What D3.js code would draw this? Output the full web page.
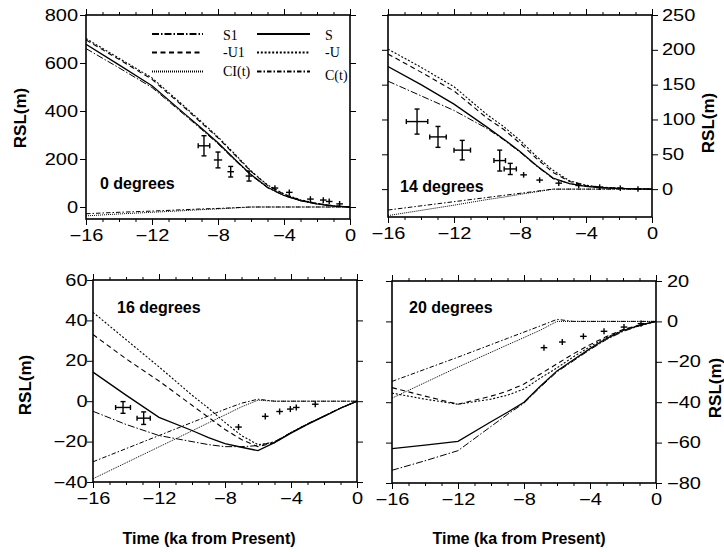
<!DOCTYPE html>
<html>
<head>
<meta charset="utf-8">
<script src="https://cdn.jsdelivr.net/npm/d3@7"></script>
<style>
  body { margin: 0; background: #fff; }
  svg { display: block; }
  text { font-family: "Liberation Sans", Arial, sans-serif; fill: #000; }
</style>
</head>
<body>
<div id="canvas"></div>
<script>
// time grid (ka from present) on which the model curves were read
const times = [-16, -14, -12, -10, -9, -8, -7, -6, -5, -4, -3, -2, -1, 0];
const xMajor = [-16, -12, -8, -4, 0];
const xMinor = d3.range(-16, 1);

// legend order: S1, S / -U1, -U / CI(t), C(t)
const seriesNames = ["S1", "S", "-U1", "-U", "CI(t)", "C(t)"];

// model RSL curves (m), one small object per latitude
const rsl0 = {
  "S1":    [660, 580, 498, 382, 323, 263, 196, 132, 80, 47, 26, 12, 4, 0],
  "S":     [678, 592, 505, 387, 328, 268, 200, 135, 82, 48, 27, 13, 4, 0],
  "-U1":   [696, 615, 532, 412, 350, 288, 218, 148, 90, 53, 29, 14, 5, 0],
  "-U":    [702, 620, 538, 417, 355, 292, 222, 150, 92, 54, 30, 15, 5, 0],
  "CI(t)": [-37, -29, -22, -15, -11, -8, -4, 0, 0, 0, 0, 0, 0, 0],
  "C(t)":  [-28, -22, -17, -11, -8, -6, -3, 0, 0, 0, 0, 0, 0, 0]
};
const rsl14 = {
  "S1":    [155, 134, 113, 87, 71, 53, 33, 15, 8, 4, 2, 1, 0.4, 0],
  "S":     [176, 150, 122, 89, 72, 54, 34, 16, 8, 4, 2, 1, 0.4, 0],
  "-U1":   [194, 168, 141, 102, 86, 66, 44, 24, 11, 5, 2.5, 1.2, 0.5, 0],
  "-U":    [201, 175, 147, 107, 90, 70, 47, 27, 12, 5.5, 2.8, 1.3, 0.5, 0],
  "CI(t)": [-38, -30.5, -23, -15, -11.5, -7.5, -3.8, 0, 0, 0, 0, 0, 0, 0],
  "C(t)":  [-30, -24, -18, -12, -9, -6, -3, 0, 0, 0, 0, 0, 0, 0]
};
const rsl16 = {
  "S1":    [-5, -11.5, -17, -20, -21.5, -22.5, -22.5, -22, -20, -15.5, -11.2, -7.3, -3.4, 0],
  "S":     [14.4, 3, -8, -14.5, -18, -21, -22.8, -24.5, -20.5, -15.8, -11.5, -7.5, -3.5, 0],
  "-U1":   [33, 21, 10, -2, -8, -14, -19, -22.5, -20.5, -15.5, -11.3, -7.4, -3.4, 0],
  "-U":    [44, 30.5, 17, 3, -3.5, -10.5, -17, -21.5, -20.5, -15.5, -11.3, -7.4, -3.4, 0],
  "CI(t)": [-38.4, -30.5, -22.6, -14.7, -10.7, -6.8, -2.8, 0.5, 0, 0, 0, 0, 0, 0],
  "C(t)":  [-30, -23.5, -17, -10.5, -7.3, -4, -1, 1, 0, 0, 0, 0, 0, 0]
};
const rsl20 = {
  "S1":    [-73.7, -69, -64, -52, -46, -40.5, -32.5, -25, -19.5, -14, -9, -5, -2.2, 0],
  "S":     [-63, -61.2, -59.4, -49.7, -45, -40, -32, -24.5, -19, -13.5, -8.5, -4.5, -2, 0],
  "-U1":   [-32.8, -37, -41, -37, -34.5, -31, -26, -21, -16, -11.5, -7.5, -4, -1.8, 0],
  "-U":    [-35.5, -38.5, -41, -38.5, -36.5, -33.5, -28, -23, -17.5, -12.5, -8, -4.3, -2, 0],
  "CI(t)": [-38, -30.3, -22.6, -15.3, -11.6, -8, -4.3, 0, 0, 0, 0, 0, 0, 0],
  "C(t)":  [-29.7, -23.7, -17.7, -11.5, -8.4, -5.3, -2.2, 1, 0, 0, 0, 0, 0, 0]
};

// observed sea-level indicators: time, RSL, time error, RSL error
const obs0 = {
  t:  [-8.85, -8.0, -7.23, -6.12, -4.55, -3.68, -2.4, -1.62, -1.26, -0.63],
  r:  [255, 196, 147, 129, 79, 61, 33, 29, 23, 13],
  dt: [0.35, 0.25, 0.2, 0.2, 0.2, 0.2, 0.2, 0.2, 0.2, 0.2],
  dr: [42, 33, 22, 21, 12, 12, 12, 12, 12, 12]
};
const obs14 = {
  t:  [-14.24, -12.97, -11.5, -9.23, -8.59, -7.78, -6.81, -5.65, -4.44, -3.17, -1.92, -0.85],
  r:  [97, 75, 56, 41, 29, 20.5, 13, 8.6, 5.2, 2.9, 1.4, 0.3],
  dt: [0.65, 0.5, 0.5, 0.35, 0.37, 0.2, 0.2, 0.2, 0.2, 0.2, 0.2, 0.2],
  dr: [18, 15, 14, 15, 8, 4, 4, 4, 4, 4, 4, 4]
};
const obs16 = {
  t:  [-14.18, -12.93, -7.18, -5.56, -4.69, -4.04, -3.68, -2.53],
  r:  [-3.1, -8.4, -12.8, -7.5, -5.1, -3.9, -3.1, -1.5],
  dt: [0.45, 0.4, 0.2, 0.2, 0.2, 0.2, 0.2, 0.2],
  dr: [2.9, 3.1, 1.5, 1.5, 1.5, 1.5, 1.5, 1.5]
};
const obs20 = {
  t:  [-6.79, -5.68, -4.4, -3.15, -1.94, -0.91],
  r:  [-13, -10.2, -7.4, -4.9, -2.8, -1.1],
  dt: [0.2, 0.2, 0.2, 0.2, 0.2, 0.2],
  dr: [1.5, 1.5, 1.5, 1.5, 1.5, 1.5]
};

const yTicks0 = [0, 200, 400, 600, 800];
const yTicks14 = [0, 50, 100, 150, 200, 250];
const yTicks16 = [-40, -20, 0, 20, 40, 60];
const yTicks20 = [-80, -60, -40, -20, 0, 20];

const lineStyle = {
  "S1":    { dash: "7,2,1.5,2", w: 1 },
  "S":     { dash: null, w: 1.3 },
  "-U1":   { dash: "5,3.5", w: 1.1 },
  "-U":    { dash: "2,1.8", w: 1.1 },
  "CI(t)": { dash: "1,1", w: 1 },
  "C(t)":  { dash: "4.5,2,1.5,2", w: 1 }
};

const width = 724, height = 552;
const svg = d3.select("#canvas").append("svg")
  .attr("width", width).attr("height", height);

const panels = [
  { label: "0 degrees", data: rsl0, obs: obs0, domain: [-50, 800], ticks: yTicks0,
    left: 86, right: 350, top: 15, bottom: 219, side: "left", gap: 8,
    labelPos: [100, 189], titlePos: [20, 118], xTitle: null },
  { label: "14 degrees", data: rsl14, obs: obs14, domain: [-40, 250], ticks: yTicks14,
    left: 388, right: 652, top: 15, bottom: 217, side: "right", gap: 10,
    labelPos: [400, 191.5], titlePos: [708, 123], xTitle: null },
  { label: "16 degrees", data: rsl16, obs: obs16, domain: [-40, 60], ticks: yTicks16,
    left: 93, right: 357, top: 280, bottom: 482, side: "left", gap: 5.5,
    labelPos: [117, 313], titlePos: [25, 385], xTitle: [209, 544] },
  { label: "20 degrees", data: rsl20, obs: obs20, domain: [-80, 20], ticks: yTicks20,
    left: 392, right: 656, top: 281, bottom: 483, side: "right", gap: 11,
    labelPos: [409, 312.5], titlePos: [715, 388], xTitle: [519, 544] }
];

const stretch = 1.25; // tick labels in the figure are horizontally stretched

const styleTicks = (g) => {
  g.select(".domain").remove();
  g.selectAll(".tick line").attr("stroke", "#000").attr("stroke-width", 1);
  g.selectAll(".tick text")
    .attr("font-size", 16)
    .attr("font-family", "Liberation Sans, Arial, sans-serif")
    .attr("transform", `scale(${stretch},1)`);
};

panels.forEach((p, pi) => {
  const x = d3.scaleLinear().domain([-16, 0]).range([p.left, p.right]);
  const y = d3.scaleLinear().domain(p.domain).range([p.bottom, p.top]);

  const clipId = "clip" + pi;
  svg.append("clipPath").attr("id", clipId)
    .append("rect")
    .attr("x", p.left).attr("y", p.top)
    .attr("width", p.right - p.left).attr("height", p.bottom - p.top);

  const g = svg.append("g").attr("clip-path", `url(#${clipId})`);

  const line = d3.line().x((d) => x(d[0])).y((d) => y(d[1]));

  // model curves
  seriesNames.forEach((name) => {
    const st = lineStyle[name];
    g.append("path")
      .datum(times.map((t, i) => [t, p.data[name][i]]))
      .attr("d", line)
      .attr("fill", "none")
      .attr("stroke", "#000")
      .attr("stroke-width", st.w)
      .attr("stroke-dasharray", st.dash);
  });

  // observations with error bars
  const ob = p.obs;
  const pts = g.selectAll("g.obs").data(ob.t.map((t, i) => i)).enter()
    .append("g").attr("class", "obs")
    .attr("stroke", "#000").attr("stroke-width", 1.4);
  pts.append("line")
    .attr("x1", (i) => x(ob.t[i] - ob.dt[i])).attr("x2", (i) => x(ob.t[i] + ob.dt[i]))
    .attr("y1", (i) => y(ob.r[i])).attr("y2", (i) => y(ob.r[i]));
  pts.append("line")
    .attr("x1", (i) => x(ob.t[i])).attr("x2", (i) => x(ob.t[i]))
    .attr("y1", (i) => y(ob.r[i] - ob.dr[i])).attr("y2", (i) => y(ob.r[i] + ob.dr[i]));
  pts.each(function (i) {
    const sel = d3.select(this);
    const hx = x(ob.t[i] + ob.dt[i]) - x(ob.t[i]);
    const hy = y(ob.r[i]) - y(ob.r[i] + ob.dr[i]);
    if (hy > 5) {
      [ob.r[i] - ob.dr[i], ob.r[i] + ob.dr[i]].forEach((v) => {
        sel.append("line")
          .attr("x1", x(ob.t[i]) - 2.5).attr("x2", x(ob.t[i]) + 2.5)
          .attr("y1", y(v)).attr("y2", y(v));
      });
    }
    if (hx > 5) {
      [ob.t[i] - ob.dt[i], ob.t[i] + ob.dt[i]].forEach((v) => {
        sel.append("line")
          .attr("x1", x(v)).attr("x2", x(v))
          .attr("y1", y(ob.r[i]) - 2.5).attr("y2", y(ob.r[i]) + 2.5);
      });
    }
  });

  // frame
  svg.append("rect")
    .attr("x", p.left).attr("y", p.top)
    .attr("width", p.right - p.left).attr("height", p.bottom - p.top)
    .attr("fill", "none").attr("stroke", "#000").attr("stroke-width", 1.6);

  // x axes (bottom labelled, top ticks only)
  const fmt = d3.format("d");
  svg.append("g").attr("transform", `translate(0,${p.bottom})`)
    .call(d3.axisBottom(x).tickValues(xMajor).tickSize(6).tickFormat(fmt))
    .call(styleTicks)
    .call((a) => a.selectAll(".tick text").attr("y", 11));
  svg.append("g").attr("transform", `translate(0,${p.bottom})`)
    .call(d3.axisBottom(x).tickValues(xMinor).tickSize(3).tickFormat(""))
    .call(styleTicks);
  svg.append("g").attr("transform", `translate(0,${p.top})`)
    .call(d3.axisTop(x).tickValues(xMajor).tickSize(6).tickFormat(""))
    .call(styleTicks);
  svg.append("g").attr("transform", `translate(0,${p.top})`)
    .call(d3.axisTop(x).tickValues(xMinor).tickSize(3).tickFormat(""))
    .call(styleTicks);

  // y axes (labelled on one side, ticks on both)
  const yl = d3.axisLeft(y).tickValues(p.ticks).tickSize(6)
    .tickFormat(p.side === "left" ? fmt : "");
  const yr = d3.axisRight(y).tickValues(p.ticks).tickSize(6)
    .tickFormat(p.side === "right" ? fmt : "");
  svg.append("g").attr("transform", `translate(${p.left},0)`)
    .call(yl).call(styleTicks)
    .call((a) => a.selectAll(".tick text").attr("x", -p.gap / stretch));
  svg.append("g").attr("transform", `translate(${p.right},0)`)
    .call(yr).call(styleTicks)
    .call((a) => a.selectAll(".tick text").attr("x", p.gap / stretch));

  // panel label
  svg.append("text")
    .attr("x", p.labelPos[0]).attr("y", p.labelPos[1])
    .attr("font-size", 16).attr("font-weight", "bold")
    .text(p.label);

  // y title
  svg.append("text")
    .attr("transform", `translate(${p.titlePos[0]},${p.titlePos[1]}) rotate(-90)`)
    .attr("text-anchor", "middle").attr("dy", "0.35em")
    .attr("font-size", 17).attr("font-weight", "bold")
    .text("RSL(m)");

  if (p.xTitle) {
    svg.append("text")
      .attr("x", p.xTitle[0]).attr("y", p.xTitle[1])
      .attr("text-anchor", "middle")
      .attr("font-size", 16).attr("font-weight", "bold")
      .text("Time (ka from Present)");
  }
});

// legend inside the first panel
const legCols = [{ x1: 152, x2: 203, tx: 223 }, { x1: 257, x2: 310, tx: 325 }];
const legRows = [{ ly: 34, ty: 40 }, { ly: 52.5, ty: 57 }, { ly: 71.5, ty: 76 }];
const legend = svg.append("g");
seriesNames.forEach((name, i) => {
  const c = legCols[i % 2], r = legRows[Math.floor(i / 2)];
  const st = lineStyle[name];
  legend.append("line")
    .attr("x1", c.x1).attr("x2", c.x2).attr("y1", r.ly).attr("y2", r.ly)
    .attr("stroke", "#000").attr("stroke-width", 1.8)
    .attr("stroke-dasharray", st.dash);
  legend.append("text")
    .attr("x", c.tx).attr("y", name === "C(t)" ? r.ty + 4 : r.ty)
    .style("font-family", "Liberation Serif, serif")
    .attr("font-size", 14)
    .text(name);
});
</script>
</body>
</html>
